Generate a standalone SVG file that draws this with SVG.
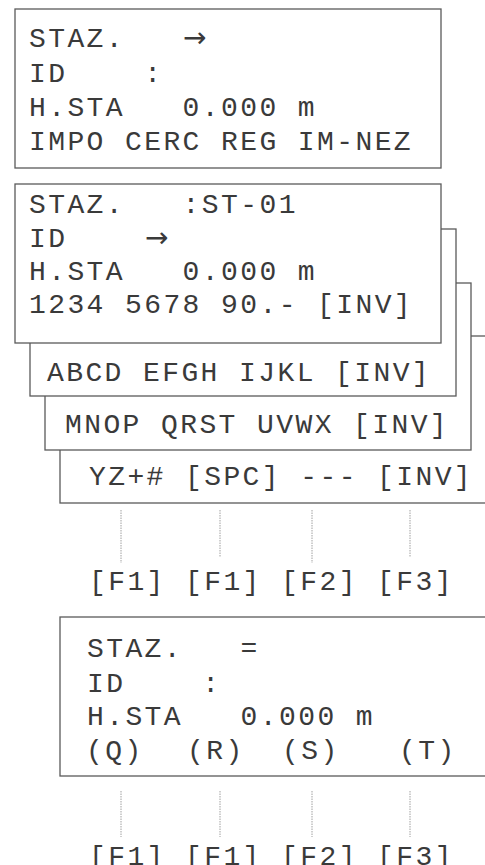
<svg xmlns="http://www.w3.org/2000/svg" width="485" height="865" viewBox="0 0 485 865">
<style>
.box{fill:#fff;stroke:#5a5a5a;stroke-width:1.3}
.t{font-family:"Liberation Mono","DejaVu Sans Mono",monospace;font-size:28px;letter-spacing:2.4px;fill:#3a3a3a}
.arr{font-family:"DejaVu Sans","Liberation Sans",sans-serif;font-size:28px;letter-spacing:0;fill:#3a3a3a}
.lead{stroke:#888;stroke-width:0.8;stroke-dasharray:1.5,1}
</style>
<rect width="485" height="865" fill="#fff"/>
<g id="screen1">
<rect class="box" x="15" y="9" width="426" height="159"/>
<text class="t" xml:space="preserve" x="29" y="47">STAZ.</text>
<text class="arr" x="183" y="47">→</text>
<text class="t" xml:space="preserve" x="29" y="82">ID    :</text>
<text class="t" xml:space="preserve" x="29" y="116">H.STA   0.000 m</text>
<text class="t" xml:space="preserve" x="29" y="150">IMPO CERC REG IM-NEZ</text>
</g>
<g id="page4">
<rect class="box" x="60" y="336" width="440" height="167"/>
<text class="t" xml:space="preserve" x="89" y="485">YZ+# [SPC] --- [INV]</text>
</g>
<g id="page3">
<rect class="box" x="45" y="283" width="426" height="167"/>
<text class="t" xml:space="preserve" x="65" y="433">MNOP QRST UVWX [INV]</text>
</g>
<g id="page2">
<rect class="box" x="30" y="229" width="426" height="167"/>
<text class="t" xml:space="preserve" x="47" y="381">ABCD EFGH IJKL [INV]</text>
</g>
<g id="page1">
<rect class="box" x="15" y="184" width="426" height="159"/>
<text class="t" xml:space="preserve" x="29" y="213">STAZ.   :ST-01</text>
<text class="t" xml:space="preserve" x="29" y="247">ID</text>
<text class="arr" x="145" y="247">→</text>
<text class="t" xml:space="preserve" x="29" y="280">H.STA   0.000 m</text>
<text class="t" xml:space="preserve" x="29" y="313">1234 5678 90.- [INV]</text>
</g>
<g id="keys1">
<text class="t" xml:space="preserve" x="89" y="590">[F1] [F1] [F2] [F3]</text>
</g>
<g id="screen2">
<rect class="box" x="60" y="617" width="440" height="159"/>
<text class="t" xml:space="preserve" x="87" y="657">STAZ.   =</text>
<text class="t" xml:space="preserve" x="87" y="692">ID    :</text>
<text class="t" xml:space="preserve" x="87" y="725">H.STA   0.000 m</text>
<text class="t" y="759"><tspan x="86">(Q)</tspan><tspan x="187">(R)</tspan><tspan x="282">(S)</tspan><tspan x="399">(T)</tspan></text>
</g>
<g id="keys2">
<text class="t" xml:space="preserve" x="89" y="865">[F1] [F1] [F2] [F3]</text>
</g>
<g id="connectors">
<line class="lead" x1="121" y1="510" x2="121" y2="563"/>
<line class="lead" x1="220" y1="510" x2="220" y2="557"/>
<line class="lead" x1="312" y1="510" x2="312" y2="563"/>
<line class="lead" x1="410" y1="510" x2="410" y2="557"/>
<line class="lead" x1="121" y1="791" x2="121" y2="837"/>
<line class="lead" x1="220" y1="791" x2="220" y2="837"/>
<line class="lead" x1="312" y1="791" x2="312" y2="837"/>
<line class="lead" x1="410" y1="791" x2="410" y2="837"/>
</g>
</svg>
